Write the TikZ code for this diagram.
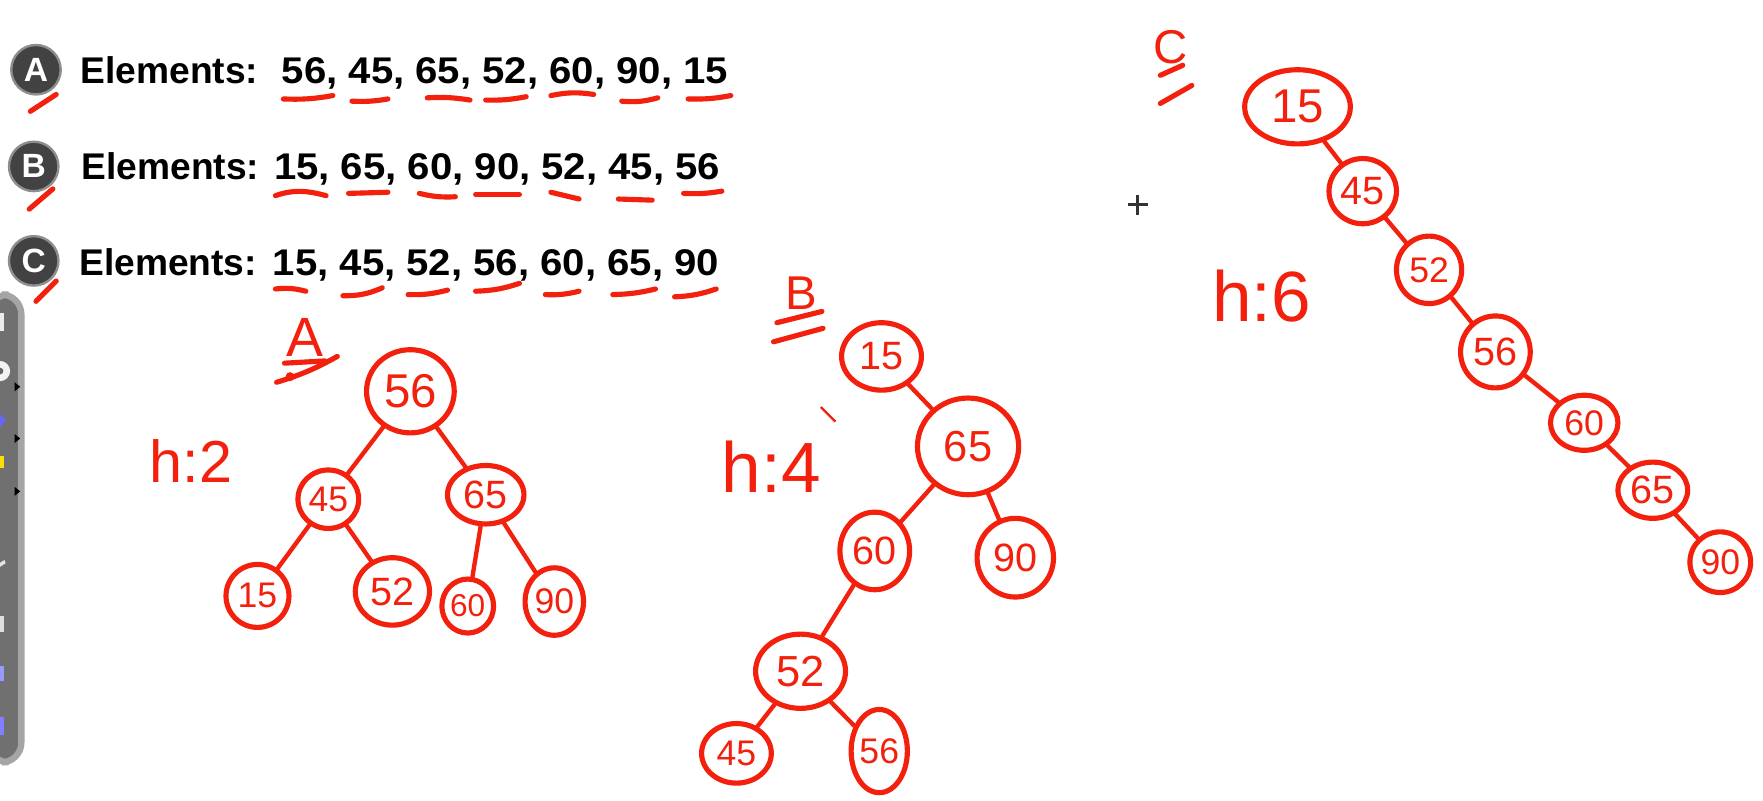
\documentclass[tikz,border=0pt]{standalone}
\usepackage{fontspec}
\usepackage{graphicx}
\setmainfont{Liberation Sans}
\usetikzlibrary{shapes.geometric}
\definecolor{ink}{RGB}{242,32,12}
\definecolor{badgegray}{RGB}{66,66,66}
\definecolor{barfill}{RGB}{112,112,112}
\definecolor{barrim}{RGB}{165,165,165}
\tikzset{
 redstroke/.style={draw=ink, line width=1.3pt, line cap=round, line join=round},
 edgeline/.style={draw=ink, line width=1.1pt, line cap=round},
 tn/.style n args={3}{ellipse, draw=ink, line width=1.3pt, text=ink, inner sep=0pt,
   minimum width=#1, minimum height=#2, font=\fontsize{#3}{#3}\selectfont},
 badge/.style={circle, fill=badgegray, draw=badgegray!60, line width=0.6pt, minimum size=4.4mm,
   inner sep=0pt, text=white, font=\bfseries\fontsize{8.5}{8.5}\selectfont},
 elabel/.style={anchor=base west, inner sep=0pt, font=\bfseries\fontsize{9.4}{12}\selectfont},
 hand/.style={text=ink, inner sep=0pt},
 icon/.style={inner sep=0pt},
}
\begin{document}
\begin{tikzpicture}[x=0.1mm,y=-0.1mm]
\useasboundingbox[fill=white] (0,0) rectangle (1568,712);

% ---------- left toolbar ----------
\draw[fill=barfill, draw=barrim, line width=1.6pt, rounded corners=5] (-10,262) rectangle (19,678);
\fill[white!85!gray] (-4,278) rectangle (4,294);
\fill[white!90!gray] (0,330) circle (9);
\fill[black!60] (0,330) circle (3);
\fill[blue!60!white] (0,368) -- (5,374) -- (0,380) -- (-5,374) -- cycle;
\fill[yellow!80!orange] (-3,406) rectangle (4,416);
\fill[white!80!gray] (-4,503) -- (4,498) -- (5,501) -- (-3,506) -- cycle;
\fill[white!75!gray] (-5,548) rectangle (4,562);
\fill[blue!40!white] (-5,592) rectangle (4,606);
\fill[blue!50!white] (-5,638) rectangle (4,654);
\foreach \yy in {344,390,437} \fill[black] (13,\yy-4) -- (18,\yy) -- (13,\yy+4) -- cycle;

% ---------- element rows ----------
\node[badge] (bA) at (32,62) {A};
\node[badge] (bB) at (30,148) {B};
\node[badge] (bC) at (30,232) {C};
\node[elabel] (eA) at (71,74) {Elements:};
\node[elabel] (nA) at (250,74) {\scalebox{1.08}[1]{56, 45, 65, 52, 60, 90, 15}};
\node[elabel] (eB) at (72,160) {Elements:};
\node[elabel] (nB) at (243,160) {\scalebox{1.08}[1]{15, 65, 60, 90, 52, 45, 56}};
\node[elabel] (eC) at (70,245) {Elements:};
\node[elabel] (nC) at (242,245) {\scalebox{1.08}[1]{15, 45, 52, 56, 60, 65, 90}};

% check slashes
\draw[redstroke] (27,99) -- (50,84);
\draw[redstroke] (26,186) -- (47,168);
\draw[redstroke] (32,268) -- (50,250);

% underlines row A
\draw[redstroke] (252,88) to[bend right=6] (296,85);
\draw[redstroke] (313,90) to[bend right=6] (345,88);
\draw[redstroke] (380,87) to[bend left=6] (418,89);
\draw[redstroke] (432,89) to[bend right=6] (468,86);
\draw[redstroke] (490,85) to[bend left=10] (528,84);
\draw[redstroke] (553,90) to[bend right=10] (585,87);
\draw[redstroke] (612,88) to[bend right=6] (650,85);
% underlines row B
\draw[redstroke] (245,174) .. controls (262,168) and (275,170) .. (290,174);
\draw[redstroke] (310,172) -- (345,171);
\draw[redstroke] (373,172) to[bend right=8] (405,175);
\draw[redstroke] (423,173) -- (462,173);
\draw[redstroke] (490,171) -- (515,177);
\draw[redstroke] (550,177) -- (580,178);
\draw[redstroke] (608,172) to[bend right=6] (642,170);
% underlines row C
\draw[redstroke] (245,257) to[bend left=10] (272,259);
\draw[redstroke] (305,263) to[bend right=12] (340,256);
\draw[redstroke] (363,262) to[bend right=8] (398,258);
\draw[redstroke] (423,259) to[bend right=8] (462,252);
\draw[redstroke] (485,262) to[bend right=8] (515,259);
\draw[redstroke] (545,262) to[bend right=6] (583,257);
\draw[redstroke] (600,264) to[bend right=8] (637,257);

% ---------- tree A ----------
\node[hand, font=\fontsize{14}{14}\selectfont] (labA) at (271,300) {A};
\draw[redstroke] (253,323) -- (289,321);
\draw[redstroke] (246,340) to[bend right=6] (300,317);
\fill[ink] (258,335) circle (4);
\node[hand, font=\fontsize{15}{15}\selectfont] (hA) at (170,410) {h:2};

\node[tn={7.8mm}{7.4mm}{12}] (a56) at (365,348) {56};
\node[tn={5.4mm}{5.2mm}{9}] (a45) at (292,444) {45};
\node[tn={6.8mm}{5.2mm}{10}] (a65) at (432,440) {65};
\node[tn={5.6mm}{5.6mm}{9}] (a15) at (229,530) {15};
\node[tn={6.6mm}{6.0mm}{10}] (a52) at (349,526) {52};
\node[tn={4.6mm}{4.8mm}{8}] (a60) at (416,539) {60};
\node[tn={5.2mm}{6.0mm}{9}] (a90) at (493,535) {90};
\draw[edgeline] (a56) -- (a45);
\draw[edgeline] (a56) -- (a65);
\draw[edgeline] (a45) -- (a15);
\draw[edgeline] (a45) -- (a52);
\draw[edgeline] (a65) -- (a60);
\draw[edgeline] (a65) -- (a90);

% ---------- tree B ----------
\node[hand, font=\fontsize{12}{12}\selectfont] (labB) at (713,261) {B};
\draw[redstroke] (691,287) -- (731,277);
\draw[redstroke] (688,304) -- (732,292);
\node[hand, font=\fontsize{18}{18}\selectfont] (hB) at (686,415) {h:4};
\coordinate (tk1) at (730,362);
\coordinate (tk2) at (743,375);
\draw[draw=ink, line width=0.6pt] (tk1) -- (tk2);

\node[tn={7.1mm}{6.0mm}{10}] (b15) at (784,317) {15};
\node[tn={9.0mm}{8.6mm}{11}] (b65) at (861,397) {65};
\node[tn={6.2mm}{6.9mm}{10}] (b60) at (778,490) {60};
\node[tn={6.8mm}{7.0mm}{10}] (b90) at (903,496) {90};
\node[tn={8.0mm}{6.6mm}{11}] (b52) at (712,597) {52};
\node[tn={6.2mm}{5.3mm}{9}] (b45) at (655,670) {45};
\node[tn={5.0mm}{7.4mm}{9}] (b56) at (782,668) {56};
\draw[edgeline] (b15) -- (b65);
\draw[edgeline] (b65) -- (b60);
\draw[edgeline] (b65) -- (b90);
\draw[edgeline] (b60) -- (b52);
\draw[edgeline] (b52) -- (b45);
\draw[edgeline] (b52) -- (b56);

% ---------- tree C ----------
\node[hand, font=\fontsize{12}{12}\selectfont] (labC) at (1041,42) {C};
\draw[redstroke] (1032,67) -- (1052,58);
\draw[redstroke] (1032,92) -- (1060,76);
\node[hand, font=\fontsize{18}{18}\selectfont] (hC) at (1122,263) {h:6};

\coordinate (cr) at (1012,182);
\draw[black!80, line width=0.8pt] ([xshift=-0.9mm]cr) -- ([xshift=0.9mm]cr);
\draw[black!80, line width=0.8pt] ([yshift=-0.9mm]cr) -- ([yshift=0.9mm]cr);

\node[tn={9.4mm}{6.6mm}{12}] (c15) at (1154,95) {15};
\node[tn={6.0mm}{5.8mm}{10}] (c45) at (1212,170) {45};
\node[tn={5.8mm}{6.0mm}{9}] (c52) at (1271,240) {52};
\node[tn={6.2mm}{6.4mm}{10}] (c56) at (1330,313) {56};
\node[tn={6.0mm}{4.9mm}{9}] (c60) at (1409,376) {60};
\node[tn={6.2mm}{5.0mm}{10}] (c65) at (1470,436) {65};
\node[tn={5.4mm}{5.4mm}{9}] (c90) at (1530,500) {90};
\draw[edgeline] (c15) -- (c45);
\draw[edgeline] (c45) -- (c52);
\draw[edgeline] (c52) -- (c56);
\draw[edgeline] (c56) -- (c60);
\draw[edgeline] (c60) -- (c65);
\draw[edgeline] (c65) -- (c90);
\end{tikzpicture}
\end{document}
